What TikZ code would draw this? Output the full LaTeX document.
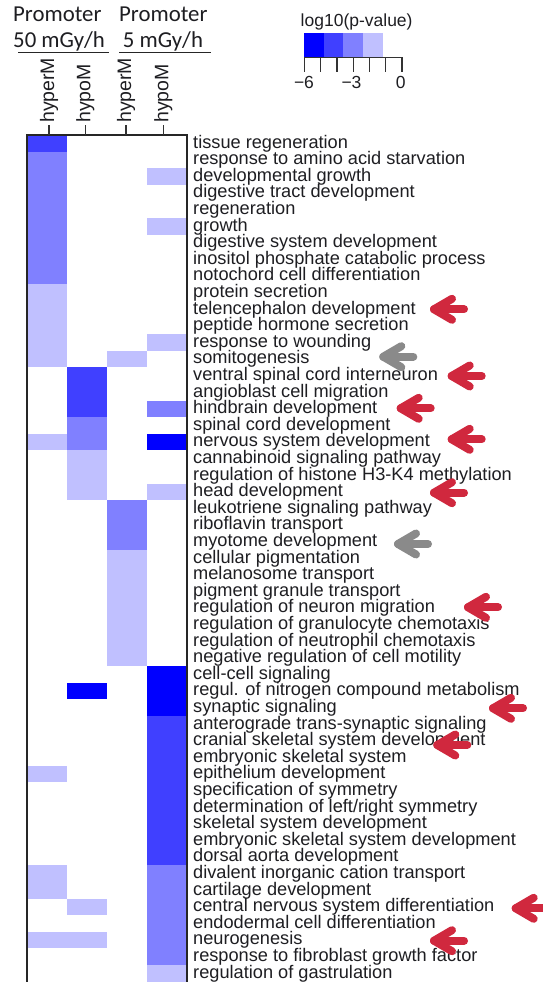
\documentclass[tikz,border=0pt]{standalone}
\usepackage{fontspec}
\setmainfont{Liberation Sans}
\newfontfamily\calibfont{Carlito}
\definecolor{lvA}{RGB}{0,0,255}
\definecolor{lvB}{RGB}{64,64,255}
\definecolor{lvC}{RGB}{128,128,255}
\definecolor{lvD}{RGB}{192,192,255}
\definecolor{arrred}{RGB}{208,40,62}
\definecolor{arrgray}{RGB}{138,138,138}
\definecolor{txt}{RGB}{30,30,34}
\newcommand{\pointer}[4]{%
  \coordinate (#4) at (#1+4,#2);
  \draw[#3, line width=8, line cap=round, line join=round]
    ([shift={(18,-10.5)}]#4) -- (#4) -- ([shift={(18,10.5)}]#4);
  \draw[#3, line width=8, line cap=round] (#4) -- ([shift={(30,0)}]#4);
}
\begin{document}
\begin{tikzpicture}[x=1pt,y=-1pt,
  rowlab/.style={anchor=base west, inner sep=0pt, text=txt, font=\fontsize{18.2}{18}\selectfont},
  collab/.style={rotate=90, anchor=west, inner sep=0pt, text=txt, font=\fontsize{19.5}{19}\selectfont},
  headlab/.style={anchor=base west, inner sep=0pt, text=txt, font=\calibfont\fontsize{22.8}{23}\selectfont},
  leglab/.style={anchor=base, inner sep=0pt, text=txt, font=\fontsize{17.5}{17}\selectfont},
  frameline/.style={line width=1.4pt, draw=black!85},
  tickline/.style={line width=1.3pt, draw=black!80}]
\useasboundingbox (0,0) rectangle (543,982);
\fill[white] (0,0) rectangle (543,982);

% header
\node[headlab] (p1) at (13,21.7) {Promoter};
\node[headlab] (d1) at (13,47.3) {50 mGy/h};
\node[headlab] (p2) at (119,21.7) {Promoter};
\node[headlab] (d2) at (122.7,47.3) {5 mGy/h};
\draw[line width=1.6pt, black!85] (18,52.5) -- (109,52.5);
\draw[line width=1.6pt, black!85] (119.3,52.5) -- (210.7,52.5);

% legend
\node[anchor=base west, inner sep=0pt, text=txt, font=\fontsize{17.5}{17}\selectfont] (lt) at (300.5,26.7) {log10(p-value)};
\fill[lvA] (304,33.3) rectangle (324,57.3);
\fill[lvB] (324,33.3) rectangle (343.3,57.3);
\fill[lvC] (343.3,33.3) rectangle (363.3,57.3);
\fill[lvD] (363.3,33.3) rectangle (383.3,57.3);
\draw[tickline] (304.5,57.3) -- (402,57.3);
\foreach \k in {0,...,6} \draw[tickline] ({304.5+\k*16.25},57.3) -- ({304.5+\k*16.25},71.7);
\node[leglab] (lm6) at (304,88.3) {−6};
\node[leglab] (lm3) at (351.5,88.3) {−3};
\node[leglab] (l0) at (400.8,88.3) {0};

% heatmap cells
\foreach \c/\a/\b/\lv in {
 1/1/1/lvB, 1/2/9/lvC, 1/10/14/lvD, 1/19/19/lvD, 1/39/39/lvD, 1/45/46/lvD, 1/49/49/lvD,
 2/15/17/lvB, 2/18/19/lvC, 2/20/22/lvD, 2/34/34/lvA, 2/47/47/lvD, 2/49/49/lvD,
 3/14/14/lvD, 3/23/25/lvC, 3/26/32/lvD,
 4/3/3/lvD, 4/6/6/lvD, 4/13/13/lvD, 4/17/17/lvC, 4/19/19/lvA, 4/22/22/lvD,
 4/33/35/lvA, 4/36/44/lvB, 4/45/50/lvC, 4/51/51/lvD}
  \fill[\lv] ({27+(\c-1)*40},{135+(\a-1)*16.6}) rectangle ({27+\c*40},{135+\b*16.6});

% frame and ticks
\draw[frameline] (27,984) -- (27,135) -- (187,135) -- (187,984);
\foreach \x in {49,85.3,126,163.3} \draw[tickline] (\x,135) -- (\x,125);

% column labels
\node[collab] (c1) at (49,123) {hyperM};
\node[collab] (c2) at (85.3,123) {hypoM};
\node[collab] (c3) at (126,123) {hyperM};
\node[collab] (c4) at (163.3,123) {hypoM};

% row labels
\foreach \t [count=\i] in {tissue regeneration, response to amino acid starvation, developmental growth, digestive tract development, regeneration, growth, digestive system development, inositol phosphate catabolic process, notochord cell differentiation, protein secretion, telencephalon development, peptide hormone secretion, response to wounding, somitogenesis, ventral spinal cord interneuron, angioblast cell migration, hindbrain development, spinal cord development, nervous system development, cannabinoid signaling pathway, regulation of histone H3-K4 methylation, head development, leukotriene signaling pathway, riboflavin transport, myotome development, cellular pigmentation, melanosome transport, pigment granule transport, regulation of neuron migration, regulation of granulocyte chemotaxis, regulation of neutrophil chemotaxis, negative regulation of cell motility, cell-cell signaling, regul. of nitrogen compound metabolism, synaptic signaling, anterograde trans-synaptic signaling, cranial skeletal system development, embryonic skeletal system, epithelium development, specification of symmetry, determination of left/right symmetry, skeletal system development, embryonic skeletal system development, dorsal aorta development, divalent inorganic cation transport, cartilage development, central nervous system differentiation, endodermal cell differentiation, neurogenesis, response to fibroblast growth factor, regulation of gastrulation}
  \node[rowlab] (r\i) at (193,{135+(\i-1)*16.6+13}) {\t};

% arrows
\pointer{430}{309.3}{arrred}{a1}
\pointer{379.3}{356.7}{arrgray}{a2}
\pointer{447.7}{376}{arrred}{a3}
\pointer{396.7}{408.3}{arrred}{a4}
\pointer{447.7}{439.3}{arrred}{a5}
\pointer{430}{492.7}{arrred}{a6}
\pointer{394}{544}{arrgray}{a7}
\pointer{464}{607.3}{arrred}{a8}
\pointer{489}{708.3}{arrred}{a9}
\pointer{433.3}{745}{arrred}{a10}
\pointer{511.7}{908.3}{arrred}{a11}
\pointer{430}{940.7}{arrred}{a12}
\end{tikzpicture}
\end{document}
